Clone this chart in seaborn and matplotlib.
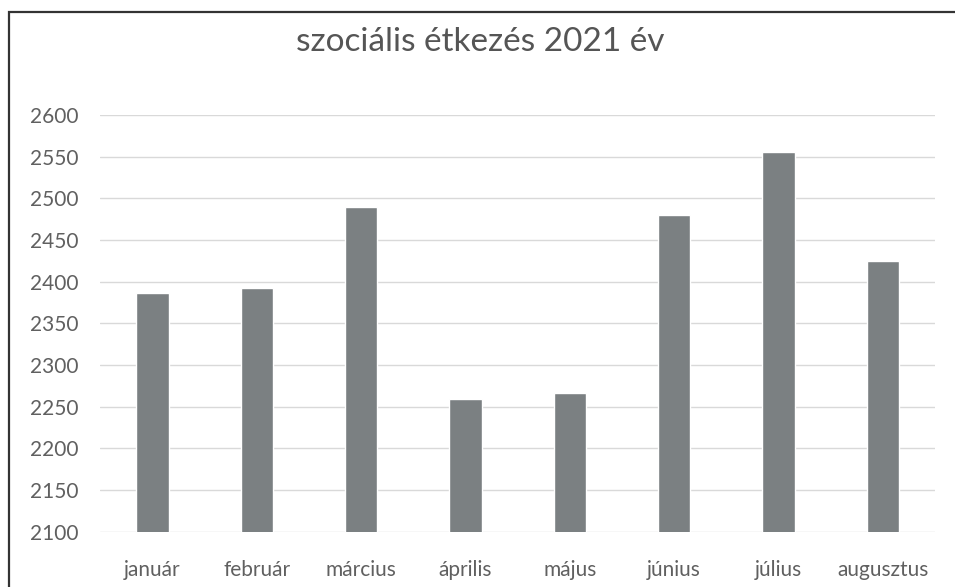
import matplotlib
matplotlib.use("Agg")
import matplotlib.pyplot as plt
import seaborn as sns
import pandas as pd

# adatok
honapok = ["január", "február", "március", "április", "május", "június", "július", "augusztus"]
adagok = [2386, 2393, 2490, 2259, 2266, 2480, 2556, 2425]
cim = "szociális étkezés 2021 év"
y_ticks = list(range(2100, 2601, 50))

df = pd.DataFrame({"honap": honapok, "adag": adagok})

sns.set_style("white")
plt.rcParams["font.family"] = ["Lato", "DejaVu Sans"]

fig = plt.figure(figsize=(9.55, 5.87), dpi=100)
ax = fig.add_axes([0.105, 0.094, 0.874, 0.710])

sns.barplot(data=df, x="honap", y="adag", color="#7b8082", width=0.31,
            saturation=1, ax=ax, zorder=3)

ax.set_ylim(2100, 2600)
ax.set_yticks(y_ticks)
ax.set_xlim(-0.5, len(honapok) - 0.5)
ax.grid(axis="y", color="#d9d9d9", linewidth=1, zorder=0)
ax.tick_params(axis="both", length=0, labelsize=15, colors="#606060")
ax.tick_params(axis="x", pad=20)
ax.tick_params(axis="y", pad=16)
ax.set_xlabel("")
ax.set_ylabel("")
for s in ax.spines.values():
    s.set_visible(False)

fig.text(0.503, 0.928, cim, ha="center", va="center", fontsize=24,
         color="#555555")

# keret
keret = plt.Rectangle((0.009, -0.1), 1.1, 1.08, transform=fig.transFigure,
                      fill=False, edgecolor="#333333", linewidth=1.6)
fig.patches.append(keret)

fig.savefig("out.png", dpi=100)
